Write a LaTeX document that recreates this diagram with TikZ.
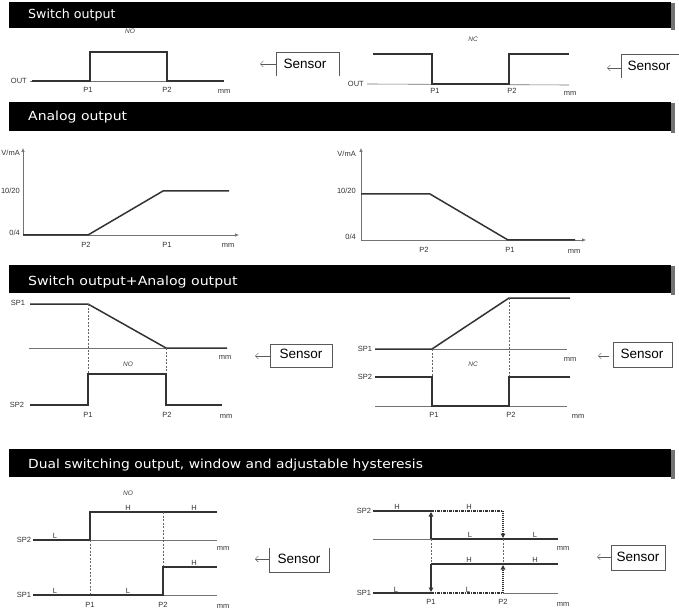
\documentclass[tikz,border=0pt]{standalone}
\usepackage{fontspec}
\setmainfont{Liberation Sans}
\newfontfamily\titlefont{DejaVu Sans}
\usetikzlibrary{arrows.meta}
\begin{document}
\begin{tikzpicture}[x=1pt,y=-1pt,
 hdr/.style={fill=black},
 hshadow/.style={fill=black!55},
 htitle/.style={anchor=base west,text=white,font=\titlefont\fontsize{12.5}{14}\selectfont,inner sep=0},
 lbl/.style={font=\fontsize{7.5}{8}\selectfont,text=black!80,inner sep=0},
 lblr/.style={lbl,anchor=east},
 itl/.style={font=\fontsize{6.5}{7}\selectfont\itshape,text=black!75,inner sep=0},
 sig/.style={line width=1.5pt,draw=black!80},
 axis/.style={line width=0.6pt,draw=black!55},
 axarrow/.style={axis,-{Latex[length=4pt,width=3.5pt]}},
 guide/.style={dash pattern=on 2pt off 1.5pt,line width=0.5pt,draw=black!60},
 dashdot/.style={line width=1.2pt,draw=black!80,dash pattern=on 3pt off 1pt on 1pt off 1pt},
 dotv/.style={line width=1.2pt,draw=black!80,dash pattern=on 1pt off 1pt},
 harrow/.style={-{Triangle[length=4.5pt,width=4.5pt]}},
 senstext/.style={font=\fontsize{13.5}{15}\selectfont,text=black,inner sep=0},
 sensbox/.style={line width=0.6pt,draw=black!65},
 sensarrow/.style={-{Straight Barb[length=3pt,width=6pt]},line width=0.5pt,draw=black!65}
]
\useasboundingbox (0,0) rectangle (679,609);
\fill[white] (0,0) rectangle (679,609);

% ---------- headers ----------
\foreach \t/\b in {2/28,102/131,265/293,449/477}{
  \fill[hshadow] (671,\t+1) rectangle (675,\b+2);
  \fill[hdr] (9,\t) rectangle (671,\b);
}
\node[htitle] (t1) at (28,18.5) {\scalebox{1.01}[1]{Switch output}};
\node[htitle] (t2) at (28,120.5) {\scalebox{1.12}[1]{Analog output}};
\node[htitle] (t3) at (28,285) {\scalebox{1.13}[1]{Switch output+Analog output}};
\node[htitle] (t4) at (28,468) {\scalebox{1.107}[1]{Dual switching output, window and adjustable hysteresis}};

% ---------- section 1 left (NO) ----------
\node[itl] (no1) at (130,31) {NO};
\node[lblr] (out1) at (27,81) {OUT};
\draw[axis] (out1.east) ++(3,0) -- (224,81);
\draw[sig] (32,81) -- (90,81) -- (90,52) -- (167,52) -- (167,81) -- (224,81);
\node[lbl] (p11) at (88,90) {P1};
\node[lbl] (p21) at (167,90) {P2};
\node[lbl] (mm1) at (224,91) {mm};
\node[senstext] (sen1) at (305,63.5) {Sensor};
\draw[sensbox] (276,76) -- (276,52) -- (339,52) -- (339,76);
\coordinate (sb1) at (276,64);
\coordinate (se1) at (260,64);
\draw[sensarrow] (sb1) -- (se1);

% ---------- section 1 right (NC) ----------
\node[itl] (nc1) at (473,39) {NC};
\node[lblr] (out2) at (364,84) {OUT};
\draw[axis] (out2.east) ++(3,0) -- (569,85);
\draw[sig] (373,54) -- (432,54) -- (432,84) -- (509,84) -- (509,54) -- (569,54);
\node[lbl] (p12) at (435,90.5) {P1};
\node[lbl] (p22) at (512,90.5) {P2};
\node[lbl] (mm2) at (570,93) {mm};
\node[senstext] (sen2) at (649,65.5) {Sensor};
\draw[sensbox] (621,78) -- (621,54) -- (679,54);
\coordinate (sb2) at (621,68);
\coordinate (se2) at (607,68);
\draw[sensarrow] (sb2) -- (se2);

% ---------- section 2 left ----------
\draw[axarrow] (23,235) -- (23,148);
\draw[axarrow] (23,235) -- (239,235);
\node[lblr] (va3) at (20,153) {V/mA};
\node[lblr] (hi3) at (20,191) {10/20};
\node[lblr] (lo3) at (20,233) {0/4};
\draw[sig] (23,235) -- (88,235) -- (163,191) -- (229,191);
\node[lbl] (p23) at (86,245) {P2};
\node[lbl] (p13) at (167,245) {P1};
\node[lbl] (mm3) at (228,245) {mm};

% ---------- section 2 right ----------
\draw[axarrow] (361,240) -- (361,148);
\draw[axarrow] (361,240) -- (586,240);
\node[lblr] (va4) at (356,154) {V/mA};
\node[lblr] (hi4) at (356,191) {10/20};
\node[lblr] (lo4) at (356,237) {0/4};
\draw[sig] (361,194) -- (430,194) -- (508,240) -- (575,240);
\node[lbl] (p24) at (424,250) {P2};
\node[lbl] (p14) at (510,250) {P1};
\node[lbl] (mm4) at (574,251) {mm};

% ---------- section 3 left ----------
\node[lbl] (sp15) at (18,303) {SP1};
\draw[axis] (29,348) -- (227,348);
\draw[sig] (30,304) -- (88,304) -- (166,348) -- (227,348);
\draw[guide] (88,304) -- (88,374);
\draw[guide] (166,348) -- (166,374);
\node[lbl] (mm5) at (225,357) {mm};
\node[itl] (no5) at (128,364) {NO};
\node[lbl] (sp25) at (17,405) {SP2};
\draw[sig] (30,405) -- (88,405) -- (88,374) -- (166,374) -- (166,405) -- (222,405);
\node[lbl] (p15) at (88,415) {P1};
\node[lbl] (p25) at (167,415) {P2};
\node[lbl] (mm5b) at (226,416) {mm};
\node[senstext] (sen5) at (301,354) {Sensor};
\draw[sensbox] (270,344) rectangle (332,367);
\coordinate (sb5) at (270,356);
\coordinate (se5) at (255,356);
\draw[sensarrow] (sb5) -- (se5);

% ---------- section 3 right ----------
\node[lbl] (sp16) at (365,349) {SP1};
\draw[axis] (375,349) -- (567,349);
\draw[sig] (375,349) -- (432,349) -- (509,298) -- (570,298);
\draw[guide] (432,349) -- (432,406);
\draw[guide] (509,298) -- (509,377);
\node[lbl] (mm6) at (570,359) {mm};
\node[itl] (nc6) at (473,364) {NC};
\node[lbl] (sp26) at (365,377) {SP2};
\draw[axis] (375,406) -- (567,406);
\draw[sig] (375,377) -- (432,377) -- (432,406) -- (509,406) -- (509,377) -- (570,377);
\node[lbl] (p16) at (434,415) {P1};
\node[lbl] (p26) at (511,415) {P2};
\node[lbl] (mm6b) at (578,416) {mm};
\node[senstext] (sen6) at (642,354) {Sensor};
\draw[sensbox] (613,342) rectangle (672,367);
\coordinate (sb6) at (609,356);
\coordinate (se6) at (598,356);
\draw[sensarrow] (sb6) -- (se6);

% ---------- section 4 left ----------
\node[itl] (no7) at (128,493) {NO};
\node[lbl] (sp27) at (24,540) {SP2};
\draw[axis] (90,540) -- (217,540);
\draw[sig] (33,540) -- (90,540) -- (90,512) -- (217,512);
\draw[guide] (90,540) -- (90,595);
\draw[guide] (163,512) -- (163,595);
\node[lbl] (l17) at (55,535.5) {L};
\node[lbl] (h17) at (128,507.5) {H};
\node[lbl] (h27) at (194,507.5) {H};
\node[lbl] (mm7) at (223,548) {mm};
\node[lbl] (sp17) at (24,595) {SP1};
\draw[axis] (163,595) -- (217,595);
\draw[sig] (33,595) -- (163,595) -- (163,567) -- (217,567);
\node[lbl] (l27) at (55,591) {L};
\node[lbl] (l37) at (128,591) {L};
\node[lbl] (h37) at (194,562.5) {H};
\node[lbl] (p17) at (90,605) {P1};
\node[lbl] (p27) at (163,605) {P2};
\node[lbl] (mm7b) at (223,606) {mm};
\node[senstext] (sen7) at (299,558.5) {Sensor};
\draw[sensbox] (269,548) -- (269,572) -- (329,572) -- (329,548);
\coordinate (sb7) at (269,559);
\coordinate (se7) at (255,559);
\draw[sensarrow] (sb7) -- (se7);

% ---------- section 4 right ----------
\node[lbl] (sp28) at (364,511) {SP2};
\draw[axis] (373,539) -- (431,539);
\draw[sig] (373,511) -- (431,511);
\draw[sig] (431,539) -- (558,539);
\draw[sig,harrow] (431,539) -- (431,512);
\draw[dashdot] (431,511) -- (503,511);
\draw[dotv,harrow] (503,511) -- (503,538);
\draw[guide] (431,539) -- (431,564);
\draw[guide] (503,539) -- (503,564);
\node[lbl] (h18) at (397,507) {H};
\node[lbl] (h28) at (469,507) {H};
\node[lbl] (l18) at (470,535) {L};
\node[lbl] (l28) at (535,535) {L};
\node[lbl] (mm8) at (563,548) {mm};
\node[lbl] (sp18) at (364,593) {SP1};
\draw[sig] (431,564) -- (558,564);
\draw[sig] (373,593) -- (431,593);
\draw[sig,harrow] (431,564) -- (431,592);
\draw[dashdot] (431,593) -- (503,593);
\draw[axis] (503,593) -- (558,593);
\draw[dotv,harrow] (503,593) -- (503,565);
\node[lbl] (h38) at (469,560) {H};
\node[lbl] (h48) at (535,560) {H};
\node[lbl] (l38) at (396,590) {L};
\node[lbl] (l48) at (468,590) {L};
\node[lbl] (p18) at (431,602) {P1};
\node[lbl] (p28) at (503,602) {P2};
\node[lbl] (mm8b) at (563,604) {mm};
\node[senstext] (sen8) at (638,557) {Sensor};
\draw[sensbox] (611,545) rectangle (665,570);
\coordinate (sb8) at (611,557);
\coordinate (se8) at (597,557);
\draw[sensarrow] (sb8) -- (se8);
\end{tikzpicture}
\end{document}
